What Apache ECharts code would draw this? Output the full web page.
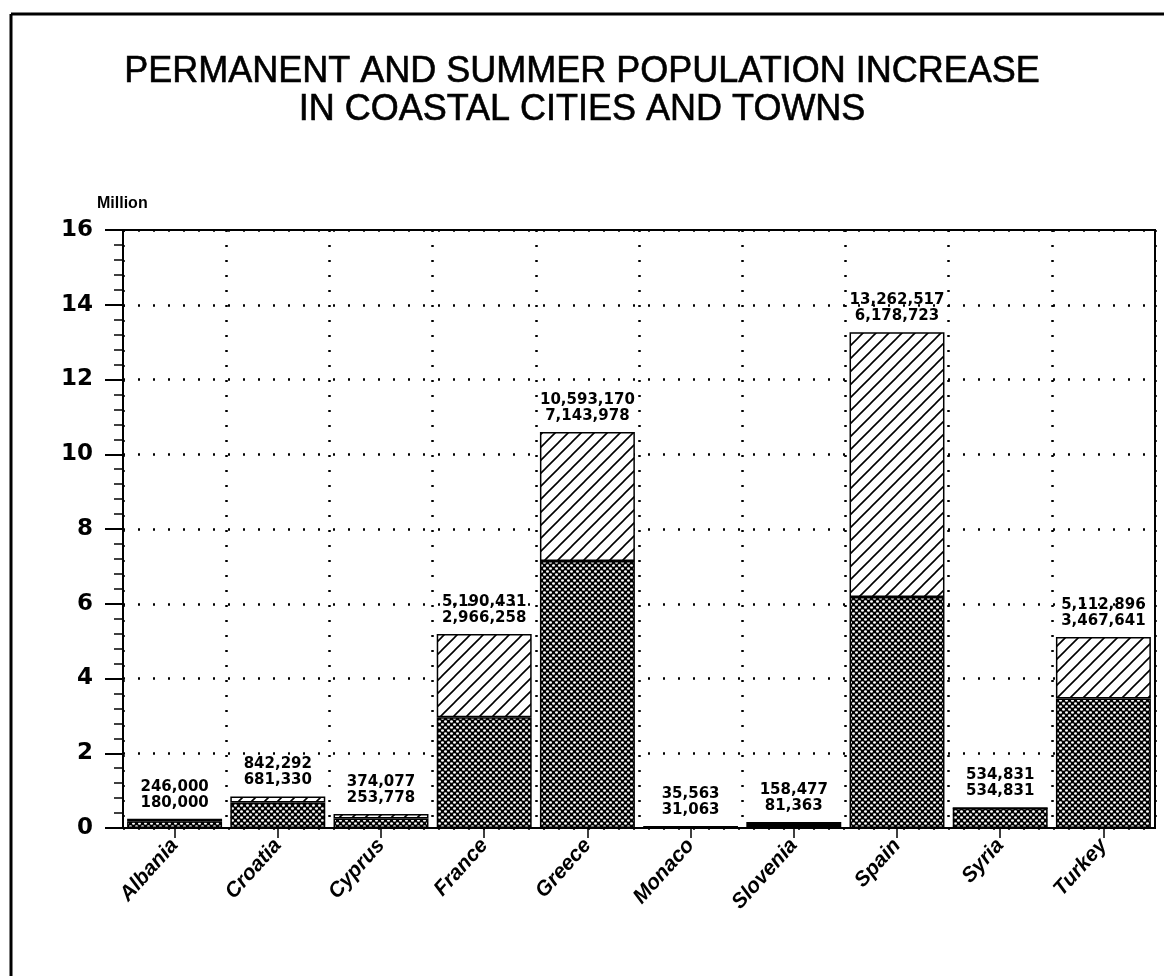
<!DOCTYPE html>
<html>
<head>
<meta charset="utf-8">
<script src="https://cdn.jsdelivr.net/npm/echarts@6/dist/echarts.min.js"></script>
<style>
html,body{margin:0;padding:0;background:#fff;}
#chart{width:1164px;height:976px;}
</style>
</head>
<body>
<div id="chart"></div>
<script>
var categories = ['Albania','Croatia','Cyprus','France','Greece','Monaco','Slovenia','Spain','Syria','Turkey'];
var totalSummer = [246000, 842292, 374077, 5190431, 10593170, 35563, 158477, 13262517, 534831, 5112896];
var permanent = [180000, 681330, 253778, 2966258, 7143978, 31063, 81363, 6178723, 534831, 3467641];
var yTicks = [0, 2, 4, 6, 8, 10, 12, 14, 16];

function fmt(n){ return n.toString().replace(/\B(?=(\d{3})+(?!\d))/g, ','); }

// patterns
function crossPattern(){
  var c = document.createElement('canvas'); c.width = 6; c.height = 6;
  var g = c.getContext('2d');
  g.fillStyle = '#000'; g.fillRect(0,0,6,6);
  g.fillStyle = '#fff';
  g.beginPath(); g.ellipse(1.5,1.5,1.5,1.2,0,0,Math.PI*2); g.fill();
  g.beginPath(); g.ellipse(4.5,4.5,1.5,1.2,0,0,Math.PI*2); g.fill();
  return c;
}
function hatchPattern(){
  var s = 13;
  var c = document.createElement('canvas'); c.width = s; c.height = s;
  var g = c.getContext('2d');
  g.fillStyle = '#fff'; g.fillRect(0,0,s,s);
  g.strokeStyle = '#000'; g.lineWidth = 1.6;
  g.beginPath();
  g.moveTo(-1, s+1); g.lineTo(s+1, -1);
  g.moveTo(-1, 1); g.lineTo(1, -1);
  g.moveTo(s-1, s+1); g.lineTo(s+1, s-1);
  g.stroke();
  return c;
}

var permM = permanent.map(function(v){ return v/1e6; });
var extraM = totalSummer.map(function(v,i){ return (v - permanent[i])/1e6; });

var chart = echarts.init(document.getElementById('chart'), null, {renderer:'canvas'});
var FONT = 'Liberation Sans, Arial, sans-serif';
var WIDE = 'DejaVu Sans, Liberation Sans, sans-serif';
chart.setOption({
  backgroundColor: '#fff',
  animation: false,
  title: {
    text: 'PERMANENT AND SUMMER POPULATION INCREASE\nIN COASTAL CITIES AND TOWNS',
    left: 'center', top: 48,
    textStyle: {fontFamily: FONT, fontSize: 36, fontWeight: 'normal', color: '#000', lineHeight: 38,
      textBorderColor: '#000', textBorderWidth: 0.6}
  },
  graphic: [
    {type:'line', shape:{x1:11, y1:14, x2:11, y2:976}, style:{stroke:'#000', lineWidth:3}},
    {type:'line', shape:{x1:11, y1:14, x2:1164, y2:14}, style:{stroke:'#000', lineWidth:3}},
    {type:'text', left: 97, top: 196, style:{text:'Million', font:'bold 16px ' + FONT, fill:'#000'}}
  ],
  grid: {left: 123, right: 9, top: 230, bottom: 148, show: true, borderColor: '#000', borderWidth: 2, backgroundColor: 'transparent'},
  xAxis: {
    type: 'category', data: categories,
    axisLine: {lineStyle: {color: '#000', width: 2}},
    axisTick: {show: true, alignWithLabel: true, length: 10, lineStyle: {color:'#000', width: 1.5}},
    splitLine: {show: true, lineStyle: {color: '#000', type: [2, 13], width: 2.5}},
    axisLabel: {rotate: 48, margin: 14, fontFamily: FONT, fontSize: 21, fontWeight: 'bold', fontStyle: 'italic', color: '#000'}
  },
  yAxis: {
    type: 'value', min: 0, max: 16, interval: 2,
    axisLine: {show: true, lineStyle: {color: '#000', width: 2}},
    axisTick: {show: true, length: 18, lineStyle: {color: '#000', width: 2}},
    minorTick: {show: true, splitNumber: 5, length: 9, lineStyle: {color: '#000', width: 1.5}},
    splitLine: {show: true, lineStyle: {color: '#000', type: [2, 13], width: 2.5}},
    axisLabel: {margin: 30, fontFamily: WIDE, fontSize: 23, fontWeight: 'bold', color: '#000',
      formatter: function(v){ return yTicks.indexOf(v) >= 0 ? String(v) : ''; }}
  },
  series: [
    {
      name: 'Permanent', type: 'bar', stack: 'pop', data: permM, barCategoryGap: '8%',
      itemStyle: {color: {image: crossPattern(), repeat: 'repeat'}, borderColor: '#000', borderWidth: 1.5}
    },
    {
      name: 'Summer', type: 'bar', stack: 'pop', data: extraM, barCategoryGap: '8%',
      itemStyle: {color: {image: hatchPattern(), repeat: 'repeat'}, borderColor: '#000', borderWidth: 1.5},
      label: {
        show: true, position: 'top', distance: 8,
        fontFamily: WIDE, fontSize: 15, fontWeight: 'bold', color: '#000', lineHeight: 16,
        formatter: function(p){ var i = p.dataIndex; return fmt(totalSummer[i]) + '\n' + fmt(permanent[i]); }
      }
    }
  ]
});
</script>
</body>
</html>
